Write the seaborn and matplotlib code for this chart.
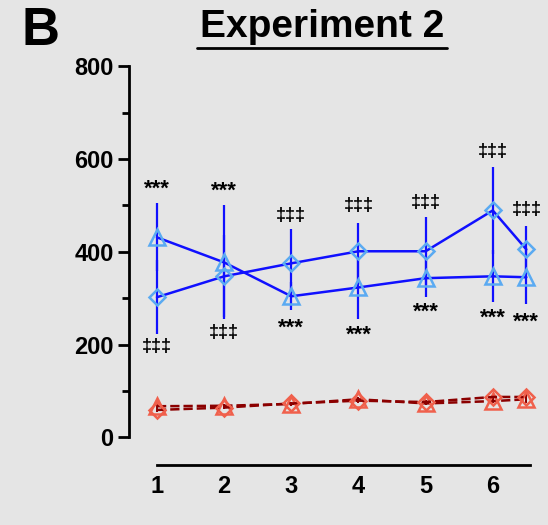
"""
Experiment 2 panel: two groups (triangle / diamond) in two conditions
"""

import matplotlib.pyplot as plt
import matplotlib.lines as mlines
import numpy as np
import pandas as pd
import seaborn as sns

# data
days = [1, 2, 3, 4, 5, 6, 6.5]
day_ticks = [1, 2, 3, 4, 5, 6]

blue_tri = [431, 377, 304, 323, 343, 347, 345]
blue_tri_err = [73, 123, 30, 67, 41, 56, 58]
blue_dia = [302, 347, 375, 401, 401, 489, 405]
blue_dia_err = [80, 88, 73, 62, 73, 93, 50]

red_tri = [67, 68, 72, 82, 73, 78, 82]
red_tri_err = [4, 4, 4, 4, 4, 4, 6]
red_dia = [59, 64, 73, 79, 76, 87, 87]
red_dia_err = [4, 4, 4, 4, 4, 5, 12]

# significance marks above / below each time point
marks_above = ["***", "***", "‡‡‡", "‡‡‡", "‡‡‡", "‡‡‡", "‡‡‡"]
marks_above_y = [535, 530, 478, 500, 506, 616, 490]
marks_below = ["‡‡‡", "‡‡‡", "***", "***", "***", "***", "***"]
marks_below_y = [196, 226, 235, 220, 270, 257, 247]

bg = "#e5e5e5"
sns.set_style("ticks")
plt.rcParams["font.family"] = ["Liberation Sans", "DejaVu Sans"]
plt.rcParams["text.color"] = "black"
plt.rcParams["xtick.color"] = "black"
plt.rcParams["ytick.color"] = "black"
plt.rcParams["axes.edgecolor"] = "black"

fig = plt.figure(figsize=(5.48, 5.25), dpi=100, facecolor=bg)
ax = fig.add_axes([0.235, 0.114, 0.75, 0.76])
ax.set_facecolor(bg)

df = pd.DataFrame({"day": days, "bt": blue_tri, "bd": blue_dia,
                   "rt": red_tri, "rd": red_dia})

# blue group
ax.errorbar(days, blue_tri, yerr=blue_tri_err, fmt="none", ecolor="#1010ff",
            elinewidth=1.6, capsize=0, zorder=2)
ax.errorbar(days, blue_dia, yerr=blue_dia_err, fmt="none", ecolor="#1010ff",
            elinewidth=1.6, capsize=0, zorder=2)
sns.lineplot(data=df, x="day", y="bt", ax=ax, color="#1010ff", lw=1.8,
             marker="^", markersize=11, markerfacecolor="none",
             markeredgecolor="#5aaaf2", markeredgewidth=1.8, zorder=3)
sns.lineplot(data=df, x="day", y="bd", ax=ax, color="#1010ff", lw=1.8,
             marker="D", markersize=8, markerfacecolor="none",
             markeredgecolor="#5aaaf2", markeredgewidth=1.8, zorder=3)

# red group
ax.errorbar(days, red_tri, yerr=red_tri_err, fmt="none", ecolor="#8b0000",
            elinewidth=1.4, capsize=0, zorder=2)
ax.errorbar(days, red_dia, yerr=red_dia_err, fmt="none", ecolor="#8b0000",
            elinewidth=1.4, capsize=0, zorder=2)
sns.lineplot(data=df, x="day", y="rt", ax=ax, color="#8b0000", lw=1.8,
             linestyle="--", marker="^", markersize=11, markerfacecolor="none",
             markeredgecolor="#f0604c", markeredgewidth=1.8, zorder=3)
sns.lineplot(data=df, x="day", y="rd", ax=ax, color="#8b0000", lw=1.8,
             linestyle="--", marker="D", markersize=8, markerfacecolor="none",
             markeredgecolor="#f0604c", markeredgewidth=1.8, zorder=3)

# significance annotations
for x, y, t in zip(days, marks_above_y, marks_above):
    ax.text(x, y, t, ha="center", va="center",
            fontsize=16 if t == "***" else 13, fontweight="bold")
for x, y, t in zip(days, marks_below_y, marks_below):
    ax.text(x, y, t, ha="center", va="center",
            fontsize=16 if t == "***" else 13, fontweight="bold")

# axes styling
ax.set_xlim(0.58, 6.7)
ax.set_ylim(-60, 800)
ax.set_yticks([0, 200, 400, 600, 800])
ax.set_yticks([100, 300, 500, 700], minor=True)
ax.set_xticks(day_ticks)
ax.set_xlabel("")
ax.set_ylabel("")
sns.despine(ax=ax)
ax.spines["left"].set_bounds(0, 800)
ax.spines["bottom"].set_bounds(1, 6.55)
ax.spines["left"].set_linewidth(2)
ax.spines["bottom"].set_linewidth(2)
ax.tick_params(axis="y", which="major", length=8, width=2, labelsize=17, pad=3)
ax.tick_params(axis="y", which="minor", length=5, width=2)
ax.tick_params(axis="x", length=0, labelsize=17, pad=7)
for lbl in ax.get_xticklabels() + ax.get_yticklabels():
    lbl.set_fontweight("bold")

# panel letter and underlined title
fig.text(0.04, 0.914, "B", fontsize=38, fontweight="bold", va="baseline", ha="left")
fig.text(0.588, 0.930, "Experiment 2", fontsize=28, fontweight="bold",
         va="baseline", ha="center")
fig.add_artist(mlines.Line2D([0.36, 0.816], [0.909, 0.909], color="black",
                             lw=2, transform=fig.transFigure))

fig.savefig("out.png", dpi=100, facecolor=bg)
